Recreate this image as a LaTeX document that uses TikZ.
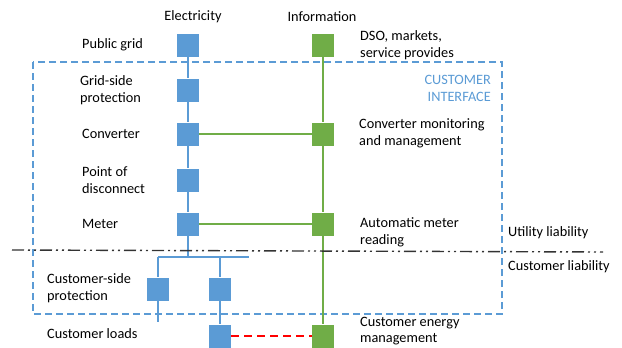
\documentclass[tikz,border=0pt]{standalone}
\usepackage{fontspec}
\setmainfont{Carlito}
\begin{document}
\begin{tikzpicture}[x=1pt,y=-1pt,
  every node/.style={font=\fontsize{14.3}{17}\selectfont},
  esq/.style={fill=eblue,minimum width=22pt,minimum height=23pt,inner sep=0pt},
  isq/.style={fill=igreen,minimum width=22pt,minimum height=23pt,inner sep=0pt},
  lbl/.style={anchor=west,align=left,inner sep=0pt},
  eline/.style={draw=eblue,line width=2pt},
  iline/.style={draw=igreen,line width=2pt},
  ]
\definecolor{eblue}{HTML}{5B9BD5}
\definecolor{igreen}{HTML}{70AD47}
\useasboundingbox (0,0) rectangle (622,348);
% customer interface frame
\draw[eblue,line width=2pt,dash pattern=on 7pt off 4pt] (33,62) rectangle (502,314);
% electricity squares
\node[esq] (pg) at (188,45) {};
\node[esq] (gs) at (188,90) {};
\node[esq] (cv) at (188,134) {};
\node[esq] (pd) at (188,180) {};
\node[esq] (mt) at (188,224) {};
\coordinate (bus) at (188,257);
\coordinate (busL) at (158,257);
\coordinate (busR) at (249,257);
\coordinate (busB) at (220,257);
\node[esq] (cs1) at (158,289) {};
\node[esq] (cs2) at (220,289) {};
\coordinate (cs1end) at (158,322);
\node[esq] (ld) at (220,336) {};
% information squares
\node[isq] (dso) at (323,45) {};
\node[isq] (cmm) at (323,134) {};
\node[isq] (amr) at (323,224) {};
\node[isq] (cem) at (323,336) {};
% electric connectors
\draw[eline] (pg) -- (gs);
\draw[eline] (gs) -- (cv);
\draw[eline] (cv) -- (pd);
\draw[eline] (pd) -- (mt);
\draw[eline] (mt) -- (bus);
\draw[eline] (busL) -- (busR);
\draw[eline] (busL) -- (cs1);
\draw[eline] (cs1) -- (cs1end);
\draw[eline] (busB) -- (cs2);
\draw[eline] (cs2) -- (ld);
% information connectors
\draw[iline] (dso) -- (cmm);
\draw[iline] (cmm) -- (amr);
\draw[iline] (amr) -- (cem);
\draw[iline] (cv) -- (cmm);
\draw[iline] (mt) -- (amr);
\draw[red,line width=2pt,dash pattern=on 8pt off 5pt] (ld) -- (cem);
% liability line
\coordinate (lia1) at (12,250);
\coordinate (lia2) at (603,252);
\draw[black!80,line width=1.4pt,dash pattern=on 12pt off 4pt on 2pt off 4pt on 2pt off 4pt] (lia1) -- (lia2);
% headings
\node (hE) at (193,17) {Electricity};
\node (hI) at (322,17) {Information};
% left labels
\node[lbl] (tpg) at (82,45) {Public grid};
\node[lbl] (tgs) at (80,90.5) {Grid-side\\protection};
\node[lbl] (tcv) at (82,134) {Converter};
\node[lbl] (tpd) at (82,180) {Point of\\disconnect};
\node[lbl] (tmt) at (82,224) {Meter};
\node[lbl] (tcs) at (47,288.5) {Customer-side\\protection};
\node[lbl] (tld) at (47,334) {Customer loads};
% right labels
\node[lbl] (tdso) at (360,45.5) {DSO, markets,\\service provides};
\node[anchor=east,align=right,inner sep=0pt,text=eblue] (tci) at (491,88) {CUSTOMER\\INTERFACE};
\node[lbl] (tcmm) at (359,133.5) {Converter monitoring\\and management};
\node[lbl] (tamr) at (360,232.5) {Automatic meter\\reading};
\node[lbl] (tul) at (508,233) {Utility liability};
\node[lbl] (tcl) at (508,267) {Customer liability};
\node[lbl,font=\fontsize{14.3}{16}\selectfont] (tcem) at (360,331.5) {Customer energy\\management};
\end{tikzpicture}
\end{document}
